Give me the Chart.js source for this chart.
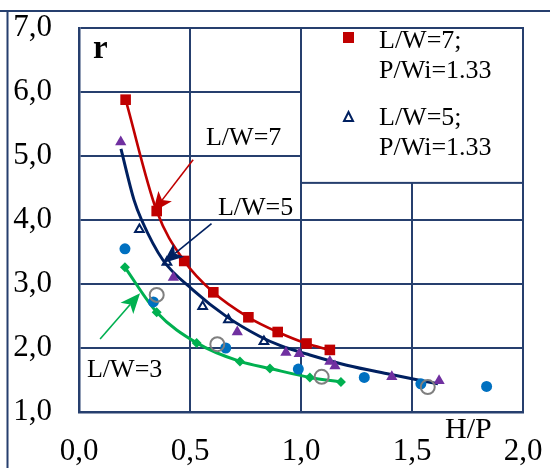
<!DOCTYPE html>
<html>
<head>
<meta charset="utf-8">
<script src="https://cdn.jsdelivr.net/npm/chart.js@4.4.1/dist/chart.umd.min.js"></script>
<style>
  html, body { margin: 0; padding: 0; background: #ffffff; }
  #wrap { width: 550px; height: 468px; position: relative; }
</style>
</head>
<body>
<div id="wrap"><canvas id="c" width="550" height="468"></canvas></div>
<script>
// Axis ticks
const xTicks = [0.0, 0.5, 1.0, 1.5, 2.0];
const yTicks = [1, 2, 3, 4, 5, 6, 7];

// L/W=7, P/Wi=1.33 (red squares, joined by a smooth curve)
const lw7X = [0.21, 0.35, 0.474, 0.605, 0.763, 0.895, 1.025, 1.13];
const lw7R = [5.88, 4.14, 3.36, 2.87, 2.48, 2.25, 2.07, 1.97];

// L/W=5, P/Wi=1.33 (open navy triangles)
const lw5X = [0.272, 0.396, 0.557, 0.673, 0.833];
const lw5R = [3.85, 3.34, 2.65, 2.44, 2.10];

// L/W=5, other series (filled purple triangles)
const lw5bX = [0.188, 0.425, 0.713, 0.932, 0.992, 1.13, 1.153, 1.409, 1.622];
const lw5bR = [5.22, 3.10, 2.25, 1.93, 1.91, 1.79, 1.72, 1.55, 1.49];

// L/W=5 trend curve
const lw5CurveX = [0.189, 0.248, 0.282, 0.378, 0.514, 0.665, 0.815, 0.905, 1.04, 1.206, 1.40, 1.617];
const lw5CurveR = [5.11, 4.31, 4.00, 3.375, 2.906, 2.49, 2.18, 2.04, 1.89, 1.73, 1.59, 1.44];

// L/W=3 (green diamonds, joined by a smooth curve)
const lw3X = [0.207, 0.35, 0.53, 0.725, 0.86, 1.04, 1.18];
const lw3R = [3.26, 2.56, 2.08, 1.79, 1.68, 1.54, 1.47];

// Blue filled circles
const blueX = [0.207, 0.335, 0.661, 0.988, 1.285, 1.54, 1.836];
const blueR = [3.55, 2.72, 2.00, 1.67, 1.54, 1.44, 1.40];

// Grey open circles
const greyX = [0.35, 0.623, 1.093, 1.571];
const greyR = [2.83, 2.06, 1.55, 1.39];

// Curve labels with their arrows (label anchor = left/baseline; arrow from -> to)
const curveLabels = ['L/W=7', 'L/W=5', 'L/W=3'];
const labelX = [0.572, 0.626, 0.036];
const labelR = [5.17, 4.08, 1.55];
const arrowFromX = [0.514, 0.597, 0.095];
const arrowFromR = [4.94, 3.945, 2.14];
const arrowToX = [0.333, 0.38, 0.275];
const arrowToR = [4.125, 3.33, 2.855];
const arrowColors = ['#C00000', '#002060', '#00B050'];

// Legend box extent (data units) and entries
const legendBoxX = [1.0, 2.0];
const legendBoxR = [7.0, 4.58];
const legendLines = [['L/W=7;', 'P/Wi=1.33'], ['L/W=5;', 'P/Wi=1.33']];

const NAVY = '#263F6E';
const SERIF = "'Liberation Serif', 'Times New Roman', serif";

const pts = (xs, ys) => xs.map((x, i) => ({ x: x, y: ys[i] }));

Chart.defaults.font.family = SERIF;
Chart.defaults.color = '#000000';

const fmt = v => Number(v).toFixed(1).replace('.', ',');

// Straight arrow with a filled, slightly notched head
function arrow(ctx, x1, y1, x2, y2, color) {
  const ang = Math.atan2(y2 - y1, x2 - x1);
  const len = 20, half = 8.5, notch = 5;
  const cos = Math.cos(ang), sin = Math.sin(ang);
  const bx = x2 - len * cos, by = y2 - len * sin;
  ctx.save();
  ctx.strokeStyle = color;
  ctx.fillStyle = color;
  ctx.lineWidth = 1.6;
  ctx.beginPath();
  ctx.moveTo(x1, y1);
  ctx.lineTo(x2 - (len - notch) * cos, y2 - (len - notch) * sin);
  ctx.stroke();
  ctx.beginPath();
  ctx.moveTo(x2, y2);
  ctx.lineTo(bx + half * sin, by - half * cos);
  ctx.lineTo(x2 - (len - notch) * cos, y2 - (len - notch) * sin);
  ctx.lineTo(bx - half * sin, by + half * cos);
  ctx.closePath();
  ctx.fill();
  ctx.restore();
}

const decorations = {
  id: 'decorations',
  beforeDraw(chart) {
    const ctx = chart.ctx;
    ctx.save();
    ctx.fillStyle = '#ffffff';
    ctx.fillRect(0, 0, chart.width, chart.height);
    // page frame: top and left rules
    ctx.strokeStyle = NAVY;
    ctx.lineWidth = 2;
    ctx.beginPath();
    ctx.moveTo(0, 11);
    ctx.lineTo(chart.width, 11);
    ctx.moveTo(7.5, 11);
    ctx.lineTo(7.5, chart.height);
    ctx.stroke();
    ctx.restore();
  },
  beforeDatasetsDraw(chart) {
    const ctx = chart.ctx;
    const xs = chart.scales.x, ys = chart.scales.y;
    // legend box
    const l = xs.getPixelForValue(legendBoxX[0]);
    const r = xs.getPixelForValue(legendBoxX[1]);
    const t = ys.getPixelForValue(legendBoxR[0]);
    const b = ys.getPixelForValue(legendBoxR[1]);
    ctx.save();
    ctx.fillStyle = '#ffffff';
    ctx.fillRect(l, t, r - l, b - t);
    ctx.strokeStyle = NAVY;
    ctx.lineWidth = 2;
    ctx.strokeRect(l, t, r - l, b - t);
    // legend markers
    ctx.fillStyle = '#C00000';
    ctx.fillRect(l + 42, t + 4, 11, 11);
    ctx.strokeStyle = '#002060';
    ctx.lineWidth = 2;
    ctx.beginPath();
    ctx.moveTo(l + 47.5, t + 84);
    ctx.lineTo(l + 52, t + 93);
    ctx.lineTo(l + 43, t + 93);
    ctx.closePath();
    ctx.stroke();
    // legend text
    ctx.fillStyle = '#000000';
    ctx.font = '26px ' + SERIF;
    ctx.textBaseline = 'alphabetic';
    ctx.textAlign = 'left';
    ctx.fillText(legendLines[0][0], l + 78, t + 20);
    ctx.fillText(legendLines[0][1], l + 78, t + 50);
    ctx.fillText(legendLines[1][0], l + 78, t + 97);
    ctx.fillText(legendLines[1][1], l + 78, t + 127);
    ctx.restore();
  },
  afterDatasetsDraw(chart) {
    const ctx = chart.ctx;
    const xs = chart.scales.x, ys = chart.scales.y;
    ctx.save();
    for (let i = 0; i < curveLabels.length; i++) {
      arrow(ctx,
        xs.getPixelForValue(arrowFromX[i]), ys.getPixelForValue(arrowFromR[i]),
        xs.getPixelForValue(arrowToX[i]), ys.getPixelForValue(arrowToR[i]),
        arrowColors[i]);
      ctx.fillStyle = '#000000';
      ctx.font = '26px ' + SERIF;
      ctx.textBaseline = 'alphabetic';
      ctx.textAlign = 'left';
      ctx.fillText(curveLabels[i], xs.getPixelForValue(labelX[i]), ys.getPixelForValue(labelR[i]));
    }
    // axis names
    ctx.font = 'bold 33px ' + SERIF;
    ctx.fillText('r', xs.getPixelForValue(0.063), ys.getPixelForValue(6.53));
    ctx.font = '30px ' + SERIF;
    ctx.fillText('H/P', xs.getPixelForValue(1.649), chart.chartArea.bottom + 26);
    ctx.restore();
  }
};

new Chart(document.getElementById('c'), {
  type: 'scatter',
  data: {
    datasets: [
      {
        label: 'L/W=7; P/Wi=1.33',
        data: pts(lw7X, lw7R),
        showLine: true,
        cubicInterpolationMode: 'monotone',
        borderColor: '#C00000',
        backgroundColor: '#C00000',
        borderWidth: 2.6,
        pointStyle: 'rect',
        pointRadius: 7.5,
        pointBorderWidth: 0,
        order: 2
      },
      {
        label: 'L/W=5 curve',
        data: pts(lw5CurveX, lw5CurveR),
        showLine: true,
        cubicInterpolationMode: 'monotone',
        borderColor: '#002060',
        borderWidth: 3,
        pointRadius: 0,
        order: 5
      },
      {
        label: 'L/W=3',
        data: pts(lw3X, lw3R),
        showLine: true,
        cubicInterpolationMode: 'monotone',
        borderColor: '#00B050',
        backgroundColor: '#00B050',
        borderWidth: 3,
        pointStyle: 'rectRot',
        pointRadius: 5,
        pointBorderWidth: 0,
        order: 4
      },
      {
        label: 'L/W=5; P/Wi=1.33',
        data: pts(lw5X, lw5R),
        borderColor: '#002060',
        backgroundColor: 'rgba(255,255,255,0)',
        pointStyle: 'triangle',
        pointRadius: 5,
        pointBorderWidth: 2,
        order: 1
      },
      {
        label: 'L/W=5',
        data: pts(lw5bX, lw5bR),
        borderColor: '#7030A0',
        backgroundColor: '#7030A0',
        pointStyle: 'triangle',
        pointRadius: 6.5,
        pointBorderWidth: 0,
        order: 1
      },
      {
        label: 'blue',
        data: pts(blueX, blueR),
        borderColor: '#0070C0',
        backgroundColor: '#0070C0',
        pointStyle: 'circle',
        pointRadius: 5.5,
        pointBorderWidth: 0,
        order: 1
      },
      {
        label: 'grey',
        data: pts(greyX, greyR),
        borderColor: '#7F7F7F',
        backgroundColor: 'rgba(255,255,255,0)',
        pointStyle: 'circle',
        pointRadius: 7,
        pointBorderWidth: 2,
        order: 0
      }
    ]
  },
  options: {
    responsive: false,
    devicePixelRatio: 1,
    animation: false,
    layout: { padding: { top: 28, right: 27, left: 0, bottom: 0 } },
    plugins: { legend: { display: false }, tooltip: { enabled: false } },
    scales: {
      x: {
        type: 'linear',
        min: 0, max: 2,
        afterBuildTicks: s => { s.ticks = xTicks.map(v => ({ value: v })); },
        afterFit: s => { s.height = 56; s.paddingLeft = 0; s.paddingRight = 0; },
        grid: { color: NAVY, lineWidth: 2, drawTicks: false },
        border: { color: NAVY, width: 2.5 },
        ticks: { padding: 21, font: { size: 31 }, color: '#000', callback: v => fmt(v) }
      },
      y: {
        type: 'linear',
        min: 1, max: 7,
        afterBuildTicks: s => { s.ticks = yTicks.map(v => ({ value: v })); },
        afterFit: s => { s.width = 79; s.paddingTop = 0; s.paddingBottom = 0; },
        grid: { color: NAVY, lineWidth: 2, drawTicks: false },
        border: { color: NAVY, width: 2.5 },
        ticks: { padding: 27, font: { size: 31 }, color: '#000', callback: v => fmt(v) }
      }
    }
  },
  plugins: [decorations]
});
</script>
</body>
</html>
